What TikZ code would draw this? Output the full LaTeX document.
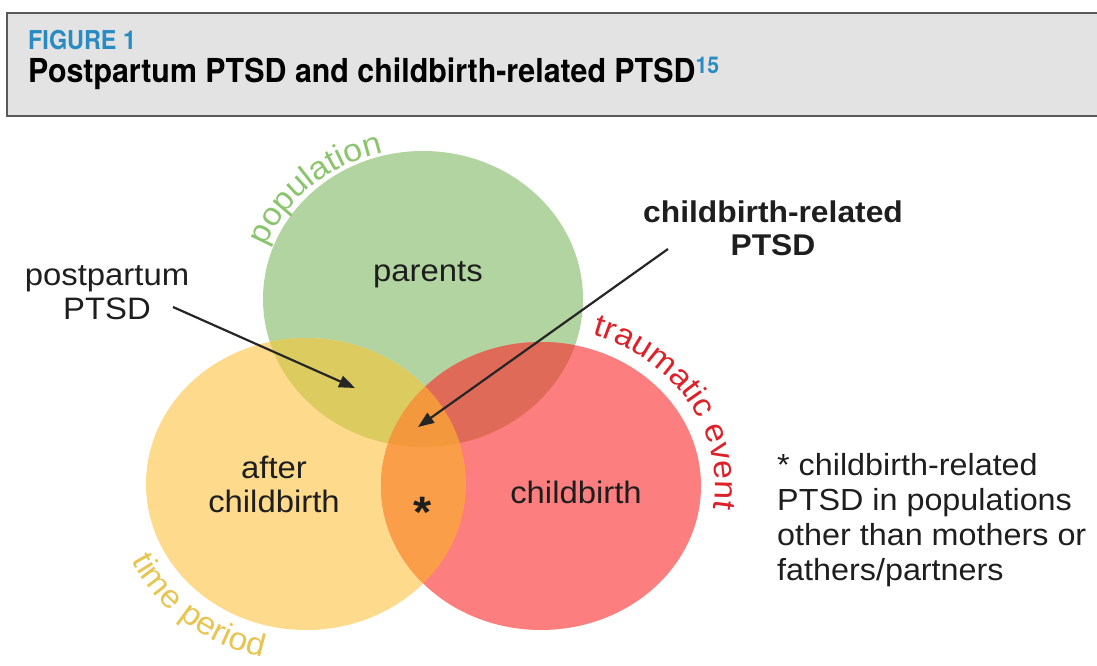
\documentclass[tikz,border=0pt]{standalone}
\usepackage{fontspec}
\setmainfont{Liberation Sans}
\newfontfamily\hdfont[FakeStretch=0.92]{TeX Gyre Heros}
\newfontfamily\figfont[FakeStretch=0.9]{TeX Gyre Heros}
\newfontfamily\labfont[FakeStretch=1.06]{Liberation Sans}
\usetikzlibrary{arrows.meta,decorations.text}
\definecolor{cg}{RGB}{178,212,160}
\definecolor{cy}{RGB}{253,218,140}
\definecolor{cr}{RGB}{252,126,126}
\definecolor{cgy}{RGB}{220,204,96}
\definecolor{cgr}{RGB}{224,106,88}
\definecolor{cyr}{RGB}{251,158,74}
\definecolor{cgyr}{RGB}{243,152,60}
\definecolor{tpop}{RGB}{140,196,110}
\definecolor{ttrau}{RGB}{222,32,40}
\definecolor{ttime}{RGB}{232,196,80}
\definecolor{hblue}{RGB}{40,140,195}
\definecolor{labc}{RGB}{30,30,30}
\newcommand\curfont{\labfont\fontsize{32}{32}\selectfont}

\begin{document}
\begin{tikzpicture}[x=1pt,y=1pt,
  lab/.style={font=\labfont\fontsize{31}{34}\selectfont,text=labc,align=center,inner sep=0pt},
  blab/.style={lab,font=\labfont\bfseries\fontsize{30}{33}\selectfont},
  arr/.style={draw=black!85,line width=2.2pt,-{Triangle[length=16pt,width=12pt]}},
  cur/.style={decorate,decoration={text along path,text align=center,text color=#1}},
  hdr/.style={fill=black!11,draw=black!65,line width=2pt}]
  \useasboundingbox (0,0) rectangle (1097,666);
  % header
  \draw[hdr] (7,550) rectangle (1115,653);
  \node[anchor=base west,inner sep=0pt,text=hblue,font=\figfont\bfseries\fontsize{26}{26}\selectfont] (fig) at (28,616) {FIGURE 1};
  \node[anchor=base west,inner sep=0pt,font=\hdfont\bfseries\fontsize{33}{33}\selectfont] (ttl) at (28,583)
    {Postpartum PTSD and childbirth-related PTSD\textsuperscript{\color{hblue}15}};
  % circles: population, time period, traumatic event
  \coordinate (G) at (423,367);
  \coordinate (Y) at (306,182);
  \coordinate (R) at (541,180);
  \fill[cg] (G) ellipse[x radius=160,y radius=148];
  \fill[cy] (Y) ellipse[x radius=160,y radius=146];
  \fill[cr] (R) ellipse[x radius=160,y radius=144];
  \begin{scope}
    \clip (G) ellipse[x radius=160,y radius=148];
    \fill[cgy] (Y) ellipse[x radius=160,y radius=146];
    \fill[cgr] (R) ellipse[x radius=160,y radius=144];
  \end{scope}
  \begin{scope}
    \clip (Y) ellipse[x radius=160,y radius=146];
    \fill[cyr] (R) ellipse[x radius=160,y radius=144];
    \clip (G) ellipse[x radius=160,y radius=148];
    \fill[cgyr] (R) ellipse[x radius=160,y radius=144];
  \end{scope}
  % curved labels
  \path[cur=tpop,decoration={text={|\curfont|population}}]
    (G) ++(164:167 and 151) arc[start angle=164,end angle=100,x radius=167,y radius=151];
  \path[cur=ttrau,decoration={text={|\curfont|traumatic event}}]
    (R) ++(78:174 and 158) arc[start angle=78,end angle=-14,x radius=174,y radius=158];
  \path[cur=ttime,decoration={text={|\curfont|time period}}]
    (Y) ++(197:193 and 178) arc[start angle=197,end angle=265,x radius=193,y radius=178];
  % labels
  \node[lab] (par) at (428,391) {parents};
  \node[lab] (aft) at (274,182) {after\\childbirth};
  \node[lab] (cb) at (576,174) {childbirth};
  \node[lab,anchor=base,font=\labfont\bfseries\fontsize{44}{44}\selectfont] (st) at (423,138) {*};
  \node[lab] (pp) at (107,373) {postpartum\\PTSD};
  \node[blab] (cbr) at (773,438) {childbirth-related\\PTSD};
  \node[lab,align=left,anchor=west,font=\labfont\fontsize{30.5}{35}\selectfont] (nt) at (777,146)
    {* childbirth-related\\PTSD in populations\\other than mothers or\\fathers/partners};
  % arrows
  \coordinate (ppt) at (173,359);
  \coordinate (ppe) at (355,278);
  \coordinate (cbt) at (668,417);
  \coordinate (cbe) at (418,239);
  \draw[arr] (ppt) -- (ppe);
  \draw[arr] (cbt) -- (cbe);
\end{tikzpicture}
\end{document}
